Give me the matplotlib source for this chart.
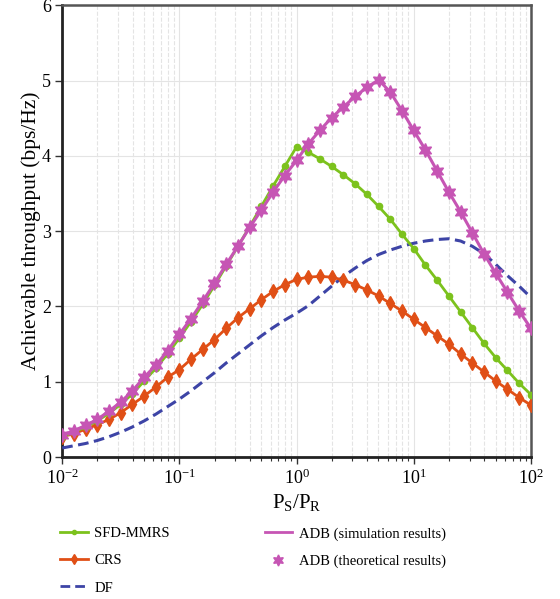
import numpy as np
import matplotlib
matplotlib.use('Agg')
import matplotlib.pyplot as plt
from matplotlib.lines import Line2D

plt.rcParams['font.family'] = 'Liberation Serif'
plt.rcParams['mathtext.fontset'] = 'custom'
plt.rcParams['mathtext.rm'] = 'Liberation Serif'
plt.rcParams['mathtext.it'] = 'Liberation Serif:italic'

# P_S/P_R, 10 points per decade from 1e-2 to 1e2
ps_pr = 10 ** np.linspace(-2, 2, 41)

sfd_mmrs = [0.27, 0.33, 0.40, 0.48, 0.58, 0.70, 0.84, 1.01, 1.18, 1.37,
            1.58, 1.80, 2.03, 2.28, 2.54, 2.80, 3.06, 3.33, 3.60, 3.86,
            4.12, 4.05, 3.96, 3.86, 3.75, 3.63, 3.49, 3.33, 3.16, 2.96,
            2.77, 2.55, 2.35, 2.14, 1.93, 1.72, 1.51, 1.32, 1.15, 0.98,
            0.83]

crs = [0.27, 0.31, 0.37, 0.43, 0.50, 0.59, 0.70, 0.81, 0.93, 1.06,
       1.16, 1.30, 1.43, 1.56, 1.71, 1.85, 1.97, 2.09, 2.20, 2.29,
       2.36, 2.39, 2.40, 2.39, 2.35, 2.29, 2.22, 2.14, 2.04, 1.94,
       1.83, 1.72, 1.61, 1.50, 1.37, 1.25, 1.13, 1.01, 0.90, 0.79,
       0.69]

df_vals = [0.12, 0.15, 0.18, 0.22, 0.27, 0.33, 0.40, 0.48, 0.57, 0.67,
           0.77, 0.88, 1.00, 1.12, 1.25, 1.37, 1.49, 1.61, 1.72, 1.82,
           1.91, 2.01, 2.14, 2.27, 2.40, 2.51, 2.61, 2.69, 2.75, 2.80,
           2.84, 2.87, 2.89, 2.90, 2.87, 2.80, 2.70, 2.56, 2.41, 2.27,
           2.12]

adb = [0.29, 0.35, 0.42, 0.50, 0.61, 0.73, 0.88, 1.06, 1.22, 1.41,
       1.63, 1.84, 2.07, 2.31, 2.56, 2.80, 3.05, 3.28, 3.52, 3.74,
       3.94, 4.16, 4.34, 4.51, 4.65, 4.79, 4.91, 5.01, 4.85, 4.60,
       4.34, 4.08, 3.80, 3.52, 3.26, 2.98, 2.70, 2.44, 2.19, 1.94,
       1.71]

c_green = '#7cc21d'
c_orange = '#e04f16'
c_blue = '#3d44a6'
c_mag = '#c655b4'
star6 = (6, 1, 0)

fig = plt.figure(figsize=(5.6, 5.99), dpi=100)
ax = fig.add_axes([0.111, 0.237, 0.837, 0.754])

ax.plot(ps_pr, df_vals, color=c_blue, lw=2.2, ls=(0, (3.5, 1.8)), zorder=3)
ax.plot(ps_pr, crs, color=c_orange, lw=2, marker='d', ms=7.5, zorder=4)
ax.plot(ps_pr, sfd_mmrs, color=c_green, lw=2, marker='o', ms=4.5, zorder=4)
ax.plot(ps_pr, adb, color=c_mag, lw=2.2, zorder=5)
ax.plot(ps_pr, adb, ls='none', color=c_mag, marker=star6, ms=10, zorder=6)

ax.set_xscale('log')
ax.set_xlim(1e-2, 1e2)
ax.set_ylim(0, 6)
ax.set_yticks([0, 1, 2, 3, 4, 5, 6])
ax.grid(True, which='major', color='#e4e4e4', lw=0.8)
ax.grid(True, which='minor', axis='x', color='#e4e4e4', lw=0.8, ls='--')
ax.set_axisbelow(True)

ax.tick_params(which='both', direction='out', labelsize=13, color='#333333')
ax.tick_params(which='major', length=5, width=1, pad=3)
ax.tick_params(which='minor', length=3, width=0.8)
for s in ['left', 'bottom']:
    ax.spines[s].set_linewidth(2)
    ax.spines[s].set_color('#222222')
for s in ['top', 'right']:
    ax.spines[s].set_linewidth(1.8)
    ax.spines[s].set_color('#555555')

ax.set_xlabel(r'$\mathrm{P_S/P_R}$', fontsize=15, labelpad=3)
ax.set_ylabel('Achievable throughput (bps/Hz)', fontsize=15.5, labelpad=1)

handles = [
    Line2D([], [], color=c_green, lw=2, marker='o', ms=3),
    Line2D([], [], color=c_orange, lw=2, marker='d', ms=5),
    Line2D([], [], color=c_blue, lw=2, ls=(0, (3.5, 1.8))),
    Line2D([], [], color=c_mag, lw=2),
    Line2D([], [], ls='none', color=c_mag, marker=star6, ms=8),
    Line2D([], [], ls='none'),
]
labels = ['SFD-MMRS', 'CRS', 'DF', 'ADB (simulation results)',
          'ADB (theoretical results)', '']
fig.legend(handles, labels, loc='upper left', bbox_to_anchor=(0.107, 0.12),
           ncol=2, frameon=False, fontsize=10.5, handlelength=1.9,
           columnspacing=6.5, labelspacing=0.95, handletextpad=0.45,
           borderpad=0, borderaxespad=0)

fig.savefig('out.png', dpi=100)
